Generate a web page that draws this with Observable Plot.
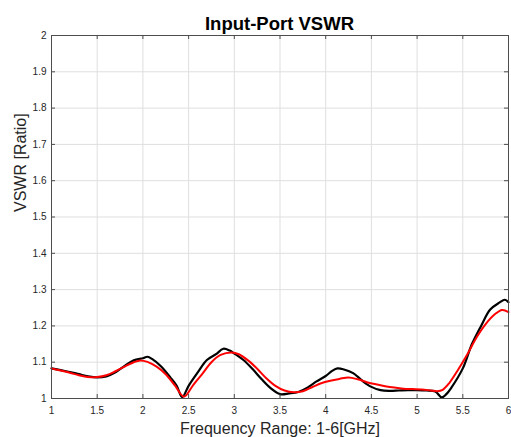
<!DOCTYPE html>
<html>
<head>
<meta charset="utf-8">
<script src="https://cdn.jsdelivr.net/npm/d3@7"></script>
<script src="https://cdn.jsdelivr.net/npm/@observablehq/plot@0.6"></script>
<style>
  body { margin: 0; background: #fff; }
  #wrap { position: relative; width: 511px; height: 437px; }
  #title { position: absolute; left: 51px; width: 457px; top: 14px; text-align: center;
           font: bold 18.5px "Liberation Sans", Arial, sans-serif; line-height: 20px; color: #000; }
</style>
</head>
<body>
<div id="wrap"><div id="title">Input-Port VSWR</div></div>
<script>
const xTicks = [1, 1.5, 2, 2.5, 3, 3.5, 4, 4.5, 5, 5.5, 6];
const yTicks = [1, 1.1, 1.2, 1.3, 1.4, 1.5, 1.6, 1.7, 1.8, 1.9, 2];

// Black trace
const freqBlack = [1.0,1.1,1.2,1.3,1.4,1.5,1.6,1.7,1.8,1.9,2.0,2.05,2.1,2.2,2.3,2.37,2.43,2.5,2.6,2.7,2.8,2.88,2.95,3.0,3.1,3.2,3.3,3.4,3.5,3.6,3.7,3.8,3.9,4.0,4.07,4.13,4.2,4.3,4.4,4.5,4.6,4.7,4.8,4.9,5.0,5.1,5.2,5.27,5.32,5.375,5.5,5.6,5.7,5.8,5.9,5.96,6.0];
const vswrBlack = [1.083,1.078,1.073,1.067,1.061,1.058,1.061,1.072,1.090,1.105,1.111,1.115,1.109,1.088,1.058,1.035,1.004,1.035,1.072,1.106,1.122,1.137,1.132,1.124,1.106,1.081,1.053,1.028,1.012,1.014,1.018,1.030,1.047,1.062,1.076,1.083,1.080,1.070,1.049,1.032,1.023,1.021,1.022,1.023,1.023,1.022,1.019,1.003,1.012,1.030,1.083,1.150,1.200,1.245,1.264,1.272,1.265];

// Red trace
const freqRed = [1.0,1.1,1.2,1.3,1.4,1.5,1.6,1.7,1.8,1.9,1.97,2.05,2.15,2.25,2.35,2.45,2.55,2.65,2.75,2.85,2.97,3.05,3.15,3.25,3.35,3.45,3.55,3.65,3.75,3.85,3.95,4.05,4.15,4.25,4.35,4.45,4.55,4.65,4.75,4.85,4.95,5.05,5.15,5.22,5.28,5.35,5.45,5.55,5.65,5.75,5.85,5.93,6.0];
const vswrRed = [1.083,1.077,1.071,1.064,1.059,1.059,1.064,1.075,1.088,1.100,1.105,1.101,1.088,1.067,1.036,1.005,1.037,1.068,1.100,1.120,1.127,1.122,1.105,1.082,1.056,1.035,1.022,1.017,1.020,1.031,1.042,1.049,1.054,1.058,1.053,1.045,1.039,1.034,1.030,1.027,1.026,1.025,1.022,1.020,1.024,1.042,1.080,1.122,1.168,1.205,1.232,1.244,1.238];

const black = freqBlack.map((f, i) => ({f, v: vswrBlack[i]}));
const red = freqRed.map((f, i) => ({f, v: vswrRed[i]}));

const axisColor = "#4d4d4d";
const gridColor = "#dfdfdf";
const W = 511, H = 437, mT = 35, mB = 39, mL = 51, mR = 3;
const innerW = W - mL - mR, innerH = H - mT - mB;
const tickLen = 4;

const chart = Plot.plot({
  width: W, height: H,
  marginTop: mT, marginBottom: mB, marginLeft: mL, marginRight: mR,
  style: {fontFamily: "'Liberation Sans', Arial, sans-serif", background: "white", overflow: "visible"},
  x: {domain: [1, 6]},
  y: {domain: [1, 2]},
  marks: [
    Plot.gridX(xTicks, {stroke: gridColor, strokeOpacity: 1}),
    Plot.gridY(yTicks, {stroke: gridColor, strokeOpacity: 1}),
    Plot.line(black, {x: "f", y: "v", stroke: "#000", strokeWidth: 2.2, curve: "catmull-rom"}),
    Plot.line(red, {x: "f", y: "v", stroke: "#ff0000", strokeWidth: 2, curve: "catmull-rom"}),
    Plot.frame({stroke: axisColor, strokeWidth: 1}),
    // inward ticks on all four sides
    Plot.gridX(xTicks, {stroke: axisColor, strokeOpacity: 1, insetTop: innerH - tickLen}),
    Plot.gridX(xTicks, {stroke: axisColor, strokeOpacity: 1, insetBottom: innerH - tickLen}),
    Plot.gridY(yTicks, {stroke: axisColor, strokeOpacity: 1, insetRight: innerW - tickLen}),
    Plot.gridY(yTicks, {stroke: axisColor, strokeOpacity: 1, insetLeft: innerW - tickLen}),
    Plot.axisX(xTicks, {tickSize: 0, tickPadding: 8, fontSize: 10, fill: "#262626", label: null, tickFormat: d => String(d)}),
    Plot.axisY(yTicks, {tickSize: 0, tickPadding: 5, fontSize: 10, fill: "#262626", label: null, tickFormat: d => String(d)}),
    Plot.text(["Frequency Range: 1-6[GHz]"], {frameAnchor: "bottom", dy: 35.5, fontSize: 16, fill: "#262626"}),
    Plot.text(["VSWR [Ratio]"], {frameAnchor: "left", dx: -31, dy: -5, rotate: -90, fontSize: 16, fill: "#262626"})
  ]
});
document.getElementById("wrap").prepend(chart);
</script>
</body>
</html>
